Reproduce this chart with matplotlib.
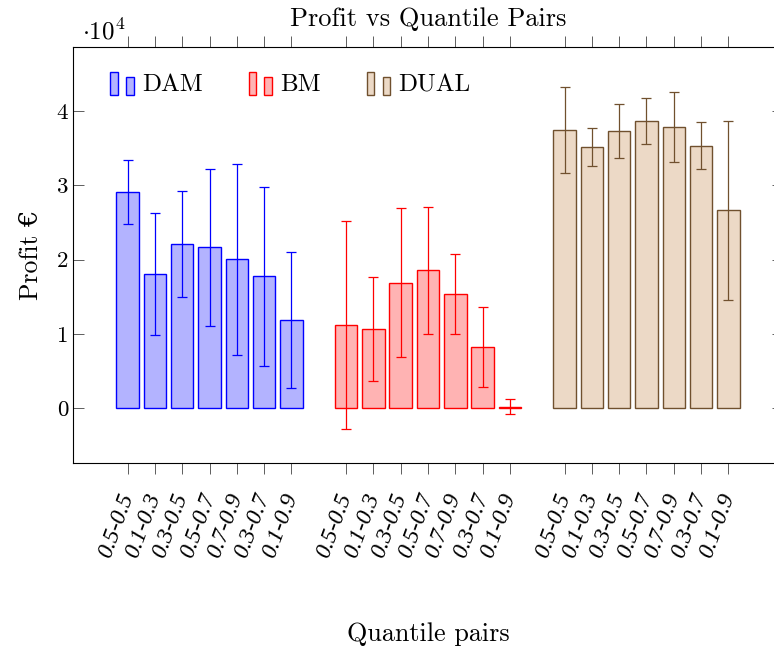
import matplotlib
matplotlib.use('Agg')
import matplotlib.pyplot as plt
from matplotlib.legend_handler import HandlerBase
from matplotlib.patches import Rectangle, Patch
import numpy as np

plt.rcParams['font.family'] = ['cmr10', 'DejaVu Serif']
plt.rcParams['mathtext.fontset'] = 'cm'
plt.rcParams['axes.formatter.use_mathtext'] = True
plt.rcParams['font.size'] = 16.5

# data (profit in euro)
pairs = ['0.5-0.5', '0.1-0.3', '0.3-0.5', '0.5-0.7', '0.7-0.9', '0.3-0.7', '0.1-0.9']
dam_mean = [29070, 18100, 22100, 21650, 20080, 17750, 11860]
dam_err = [4300, 8200, 7100, 10560, 12870, 12100, 9100]
bm_mean = [11230, 10650, 16890, 18550, 15320, 8220, 180]
bm_err = [14000, 7000, 10000, 8600, 5400, 5400, 1050]
dual_mean = [37420, 35220, 37370, 38720, 37870, 35350, 26640]
dual_err = [5780, 2560, 3640, 3100, 4760, 3200, 12060]

series = [
    ('DAM', dam_mean, dam_err, '#b3b3ff', 'blue'),
    ('BM', bm_mean, bm_err, '#ffb3b3', 'red'),
    ('DUAL', dual_mean, dual_err, '#ecd9c6', '#70502e'),
]


# pgfplots-like ybar legend image: two small bars
class HandlerTwoBars(HandlerBase):
    def create_artists(self, legend, orig_handle, xdescent, ydescent,
                       width, height, fontsize, trans):
        fc = orig_handle.get_facecolor()
        ec = orig_handle.get_edgecolor()
        w = width * 0.3
        arts = []
        for x0, h in [(0.03 * width, 1.3 * height), (0.66 * width, 1.0 * height)]:
            r = Rectangle((x0 - xdescent, -ydescent - 0.2 * height), w, h,
                          facecolor=fc, edgecolor=ec, lw=1.0, transform=trans)
            arts.append(r)
        return arts


fig = plt.figure(figsize=(7.74, 6.49), dpi=100)
ax = fig.add_axes([73 / 774, 1 - 463 / 649, 710 / 774, 416 / 649])

handles = []
ticks = []
labels = []
for g, (name, mean, err, fc, ec) in enumerate(series):
    x = np.arange(len(mean)) + g * 8
    ax.bar(x, mean, width=0.82, color=fc, edgecolor=ec, linewidth=1.0, zorder=2)
    ax.errorbar(x, mean, yerr=err, fmt='none', ecolor=ec, elinewidth=0.9,
                capsize=3.6, capthick=0.9, zorder=3)
    handles.append(Patch(facecolor=fc, edgecolor=ec, label=name))
    ticks.extend(x)
    labels.extend(pairs)

ax.set_xlim(-2, 24)
ax.set_ylim(-7410, 48650)
ax.set_yticks([0, 10000, 20000, 30000, 40000])
ax.set_yticklabels(['0', '1', '2', '3', '4'])
ax.set_xticks(ticks)
ax.set_xticklabels(labels, rotation=70, ha='right', va='center',
                   rotation_mode='anchor', style='italic',
                   family=['Liberation Serif'], fontsize=17)

ax.tick_params(axis='x', direction='out', length=8, width=0.6, top=True,
               pad=14, color='#444444')
ax.tick_params(axis='y', direction='in', length=8, width=0.6, right=True,
               color='#444444')
for s in ax.spines.values():
    s.set_linewidth(0.8)

ax.set_title('Profit vs Quantile Pairs', pad=15, fontsize=19)
ax.set_xlabel('Quantile pairs', labelpad=45, fontsize=18.8)
ax.set_ylabel('Profit €', labelpad=10, fontsize=18.5)
fig.text(82 / 774, 1 - 32 / 649, r'$\cdot 10^4$', ha='left', va='center',
         fontsize=18)

ax.legend(handles=handles, handler_map={Patch: HandlerTwoBars()},
          loc='upper left', bbox_to_anchor=(0.02, 0.99), ncol=3, frameon=False,
          fontsize=18, handlelength=1.0, handletextpad=0.3, columnspacing=1.8)

fig.savefig('out.png', dpi=100)
